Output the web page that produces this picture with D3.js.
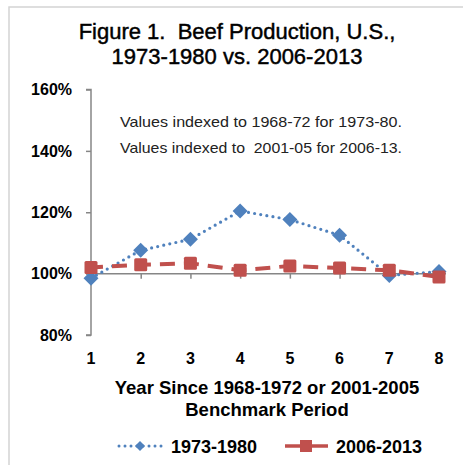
<!DOCTYPE html>
<html><head><meta charset="utf-8">
<script src="https://cdn.jsdelivr.net/npm/d3@7"></script>
<style>html,body{margin:0;padding:0;background:#fff;}svg{display:block;}</style>
</head><body>
<script>
const years = [1, 2, 3, 4, 5, 6, 7, 8];
const series1973 = [98.5, 107.6, 111.2, 120.4, 117.6, 112.5, 99.4, 100.7];
const series2006 = [102.0, 102.9, 103.4, 101.1, 102.5, 101.8, 101.1, 98.9];
const yTicks = [80, 100, 120, 140, 160];
const seriesNames = ["1973-1980", "2006-2013"];
const titleLines = ["Figure 1.  Beef Production, U.S.,", "1973-1980 vs. 2006-2013"];
const noteLines = ["Values indexed to 1968-72 for 1973-80.", "Values indexed to  2001-05 for 2006-13."];
const xTitleLines = ["Year Since 1968-1972 or 2001-2005", "Benchmark Period"];

const W = 463, H = 465;
const blue = "#4F81BD", red = "#C0504D", axisCol = "#868686";
const font = "'Liberation Sans', Arial, sans-serif";

const svg = d3.select("body").append("svg").attr("width", W).attr("height", H);
svg.append("rect").attr("width", W).attr("height", H).attr("fill", "#fff");
// chart frame
svg.append("rect").attr("x", 9).attr("y", 7).attr("width", W + 20).attr("height", H + 20)
  .attr("fill", "none").attr("stroke", "#d4d4d4").attr("stroke-width", 1.5);

const x = d3.scaleLinear().domain([1, 8]).range([91, 439]);
const y = d3.scaleLinear().domain([80, 160]).range([335, 89.5]);

// title
svg.append("g").selectAll("text").data(titleLines).join("text")
  .attr("x", 237).attr("y", (d, i) => 39 + i * 25)
  .attr("text-anchor", "middle").attr("font-family", font).attr("font-size", 22)
  .attr("fill", "#000").attr("stroke", "#000").attr("stroke-width", 0.45)
  .style("white-space", "pre").text(d => d);

// y axis
const yAxis = d3.axisLeft(y).tickValues(yTicks).tickSize(5).tickPadding(14)
  .tickFormat(d => d + "%");
const gy = svg.append("g").attr("transform", `translate(${x(1)},0)`).call(yAxis);
gy.select(".domain").attr("stroke", axisCol).attr("stroke-width", 1.5)
  .attr("d", `M-5,${y(160)}H0V${y(80)}H-5`);
gy.selectAll(".tick line").attr("stroke", axisCol).attr("stroke-width", 1.5);
gy.selectAll(".tick text").attr("font-family", font).attr("font-size", 16)
  .attr("font-weight", "bold").attr("fill", "#000");

// x axis at 100%
const xAxis = d3.axisBottom(x).tickValues(years.slice(1)).tickSize(5).tickFormat("");
const gx = svg.append("g").attr("transform", `translate(0,${y(100)})`).call(xAxis);
gx.select(".domain").attr("stroke", axisCol).attr("stroke-width", 1.5)
  .attr("d", `M${x(1)},0H${x(8) + 7}`);
gx.selectAll(".tick line").attr("stroke", axisCol).attr("stroke-width", 1.5);

// x tick labels at bottom
svg.append("g").selectAll("text").data(years).join("text")
  .attr("x", d => x(d)).attr("y", 364).attr("text-anchor", "middle")
  .attr("font-family", font).attr("font-size", 16).attr("font-weight", "bold")
  .text(d => d);

// x axis title
svg.append("g").selectAll("text").data(xTitleLines).join("text")
  .attr("x", 267).attr("y", (d, i) => 394 + i * 22).attr("text-anchor", "middle")
  .attr("font-family", font).attr("font-size", 18.5).attr("font-weight", "bold")
  .text(d => d);

// note
svg.append("g").selectAll("text").data(noteLines).join("text")
  .attr("x", 120).attr("y", (d, i) => 127 + i * 26)
  .attr("font-family", font).attr("font-size", 15).attr("fill", "#222")
  .attr("textLength", 282).attr("lengthAdjust", "spacingAndGlyphs")
  .style("white-space", "pre").text(d => d);

const line = d3.line().x((d, i) => x(years[i])).y(d => y(d));

function diamondPath(s) { return `M0,${-s}L${s},0L0,${s}L${-s},0Z`; }

// series 1 (blue dotted, diamonds)
svg.append("path").datum(series1973).attr("d", line).attr("fill", "none")
  .attr("stroke", blue).attr("stroke-width", 3.2).attr("stroke-linecap", "round")
  .attr("stroke-dasharray", "0 6.2");
svg.append("g").selectAll("path").data(series1973).join("path")
  .attr("transform", (d, i) => `translate(${x(years[i])},${y(d)})`)
  .attr("d", diamondPath(7.5)).attr("fill", blue);

// series 2 (red dashed, squares)
svg.append("path").datum(series2006).attr("d", line).attr("fill", "none")
  .attr("stroke", red).attr("stroke-width", 4).attr("stroke-dasharray", "15 9")
  .attr("stroke-dashoffset", 3);
svg.append("g").selectAll("rect").data(series2006).join("rect")
  .attr("x", (d, i) => x(years[i]) - 6.5).attr("y", d => y(d) - 6.5)
  .attr("width", 13).attr("height", 13).attr("rx", 1.5).attr("fill", red);

// legend
const lg = svg.append("g").attr("transform", "translate(0,446)");
lg.append("line").attr("x1", 119).attr("x2", 162).attr("y1", 0).attr("y2", 0)
  .attr("stroke", blue).attr("stroke-width", 3).attr("stroke-linecap", "round")
  .attr("stroke-dasharray", "0 6");
lg.append("path").attr("transform", "translate(140,0)").attr("d", diamondPath(5)).attr("fill", blue);
lg.append("text").attr("x", 171).attr("y", 6.5).attr("font-family", font)
  .attr("font-size", 18).attr("font-weight", "bold").text(seriesNames[0]);
lg.append("line").attr("x1", 285).attr("x2", 328).attr("y1", 0).attr("y2", 0)
  .attr("stroke", red).attr("stroke-width", 3.5);
lg.append("rect").attr("x", 300).attr("y", -6).attr("width", 12).attr("height", 12).attr("fill", red);
lg.append("text").attr("x", 336).attr("y", 6.5).attr("font-family", font)
  .attr("font-size", 18).attr("font-weight", "bold").text(seriesNames[1]);
</script>
</body></html>
